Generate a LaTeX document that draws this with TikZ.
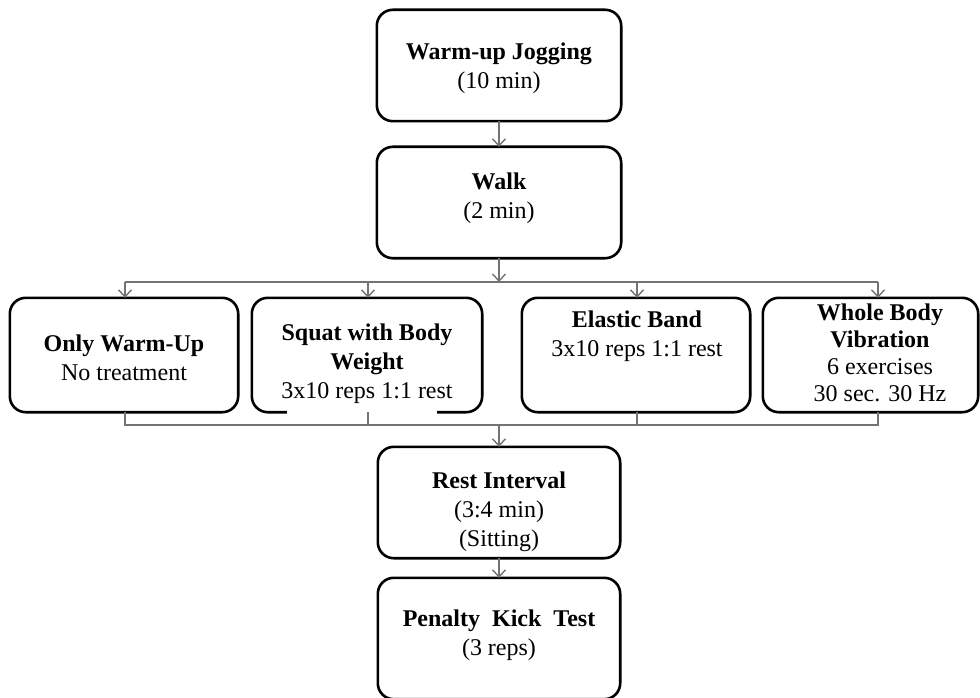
\documentclass[tikz,border=0pt]{standalone}
\usepackage{fontspec}
\setmainfont{Liberation Serif}
\usetikzlibrary{arrows.meta,calc}
\definecolor{connclr}{RGB}{115,115,115}
\begin{document}
\begin{tikzpicture}[x=1pt,y=-1pt,
  stagebox/.style={draw=black,line width=2.6pt,rounded corners=16pt,fill=none},
  lbl/.style={align=center,inner sep=0pt,font=\fontsize{24}{29}\selectfont},
  conn/.style={draw=connclr,line width=1.6pt},
  arr/.style={conn,-{Straight Barb[length=7pt,width=13pt,line width=1.4pt]}}]
\clip (0,0) rectangle (980,698);
% boxes
\node[inner sep=0pt,minimum width=244pt,minimum height=111pt] (jog) at (499,65.5) {};
\node[inner sep=0pt,minimum width=244pt,minimum height=111pt] (walk) at (499,202.5) {};
\node[inner sep=0pt,minimum width=228pt,minimum height=114pt] (only) at (124,355) {};
\node[inner sep=0pt,minimum width=230pt,minimum height=114pt] (squat) at (367,355) {};
\node[inner sep=0pt,minimum width=228pt,minimum height=114pt] (elastic) at (636,355) {};
\node[inner sep=0pt,minimum width=215pt,minimum height=114pt] (whole) at (870.5,355) {};
\node[inner sep=0pt,minimum width=242pt,minimum height=111pt] (rest) at (499,502.5) {};
\node[inner sep=0pt,minimum width=242pt,minimum height=121pt] (pen) at (499,638.5) {};
\foreach \b in {jog,walk,only,squat,elastic,whole,rest,pen}
  \draw[stagebox] (\b.north west) rectangle (\b.south east);
% white patch over squat bottom border
\fill[white] (287,403) rectangle (437,415);
% texts
\node[lbl] (tjog) at (499,68) {\textbf{Warm-up Jogging}\\(10 min)};
\node[lbl] (twalk) at (499,198) {\textbf{Walk}\\(2 min)};
\node[lbl] (tonly) at (124,358) {\textbf{Only Warm-Up}\\No treatment};
\node[lbl] (tsquat) at (367,364) {\textbf{Squat with Body}\\\textbf{Weight}\\3x10 reps 1:1 rest};
\node[lbl] (telastic) at (637,336) {\textbf{Elastic Band}\\3x10 reps 1:1 rest};
\node[lbl,font=\fontsize{24}{27}\selectfont] (twhole) at (880,353) {\textbf{Whole Body}\\\textbf{Vibration}\\6 exercises\\30 sec. 30 Hz};
\node[lbl] (trest) at (499,512) {\textbf{Rest Interval}\\(3:4 min)\\(Sitting)};
\node[lbl] (tpen) at (499,635) {\textbf{Penalty\ \ Kick\ \ Test}\\(3 reps)};
% connector coordinates
\coordinate (splitT) at (499,282);
\coordinate (joinB) at (499,425);
\coordinate (xonly) at (125,0);
\coordinate (xsquat) at (368,0);
\coordinate (xelastic) at (637,0);
\coordinate (xwhole) at (878,0);
% connectors
\draw[arr] (jog.south) -- (walk.north);
\draw[arr] (walk.south) -- (splitT);
\draw[conn] (splitT -| xonly) -- (splitT -| xwhole);
\draw[arr] (splitT -| xonly) -- (only.north -| xonly);
\draw[arr] (splitT -| xsquat) -- (squat.north -| xsquat);
\draw[arr] (splitT -| xelastic) -- (elastic.north -| xelastic);
\draw[arr] (splitT -| xwhole) -- (whole.north -| xwhole);
\draw[conn] (only.south -| xonly) |- (joinB);
\draw[conn] (squat.south -| xsquat) -- (joinB -| xsquat);
\draw[conn] (elastic.south -| xelastic) -- (joinB -| xelastic);
\draw[conn] (whole.south -| xwhole) |- (joinB);
\draw[arr] (joinB) -- (rest.north);
\draw[arr] (rest.south) -- (pen.north);
\end{tikzpicture}
\end{document}
